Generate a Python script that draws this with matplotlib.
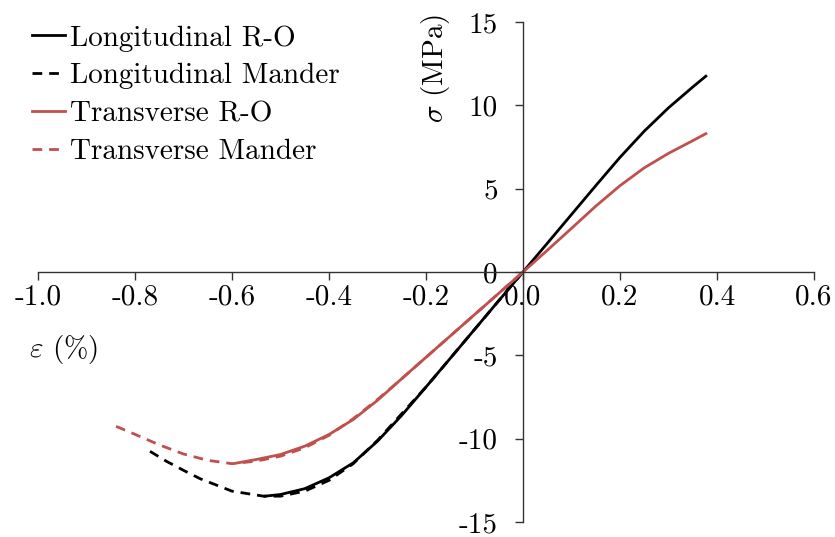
import matplotlib
matplotlib.use("Agg")
import matplotlib.pyplot as plt

plt.rcParams["font.family"] = "cmr10"
plt.rcParams["mathtext.fontset"] = "cm"
plt.rcParams["axes.unicode_minus"] = False

# strain (%) and stress (MPa)
long_ro_e = [-0.532, -0.50, -0.45, -0.40, -0.35, -0.30, -0.25, -0.20, -0.15, -0.10, -0.05,
             0.0, 0.05, 0.10, 0.15, 0.20, 0.25, 0.30, 0.35, 0.377]
long_ro_s = [-13.45, -13.35, -13.0, -12.35, -11.45, -10.15, -8.6, -6.9, -5.18, -3.45, -1.72,
             0.0, 1.72, 3.45, 5.18, 6.88, 8.45, 9.85, 11.1, 11.75]

long_mander_e = [-0.769, -0.735, -0.70, -0.666, -0.60, -0.535, -0.50, -0.45, -0.40, -0.35,
                 -0.30, -0.25, -0.20, -0.15, -0.10, 0.0]
long_mander_s = [-10.76, -11.36, -11.9, -12.4, -13.15, -13.45, -13.45, -13.15, -12.5, -11.5,
                 -10.1, -8.5, -6.9, -5.18, -3.45, 0.0]

trans_ro_e = [-0.59, -0.55, -0.50, -0.45, -0.40, -0.35, -0.30, -0.25, -0.20, -0.15, -0.10,
              -0.05, 0.0, 0.05, 0.10, 0.15, 0.20, 0.25, 0.30, 0.35, 0.377]
trans_ro_s = [-11.46, -11.25, -10.95, -10.45, -9.75, -8.85, -7.7, -6.4, -5.12, -3.84, -2.56,
              -1.28, 0.0, 1.3, 2.62, 3.95, 5.18, 6.25, 7.12, 7.88, 8.3]

trans_mander_e = [-0.839, -0.80, -0.75, -0.70, -0.65, -0.60, -0.55, -0.50, -0.45, -0.40,
                  -0.35, -0.30, -0.25, -0.20, -0.15, -0.10, 0.0]
trans_mander_s = [-9.26, -9.74, -10.37, -10.92, -11.3, -11.5, -11.35, -11.05, -10.55, -9.8,
                  -8.8, -7.65, -6.4, -5.12, -3.84, -2.56, 0.0]

xticks = [-1.0, -0.8, -0.6, -0.4, -0.2, 0.0, 0.2, 0.4, 0.6]
xtick_labels = ["-1.0", "-0.8", "-0.6", "-0.4", "-0.2", "0.0", "0.2", "0.4", "0.6"]
yticks = [-15, -10, -5, 0, 5, 10, 15]
ytick_labels = ["-15", "-10", "-5", "0", "5", "10", "15"]

red = "#C0504D"
dash = (0, (3.5, 2.5))
lw = 2.0
fs = 21

fig = plt.figure(figsize=(8.35, 5.37), dpi=100)
ax = fig.add_axes([38 / 835, 15 / 537, 776 / 835, 500 / 537])

ax.plot(long_ro_e, long_ro_s, color="black", lw=lw, label="Longitudinal R-O")
ax.plot(long_mander_e, long_mander_s, color="black", lw=lw, linestyle=dash,
        label="Longitudinal Mander")
ax.plot(trans_ro_e, trans_ro_s, color=red, lw=lw, label="Transverse R-O")
ax.plot(trans_mander_e, trans_mander_s, color=red, lw=lw, linestyle=dash,
        label="Transverse Mander")

ax.set_xlim(-1.0, 0.6)
ax.set_ylim(-15, 15)
ax.spines["left"].set_position(("data", 0))
ax.spines["bottom"].set_position(("data", 0))
ax.spines["right"].set_visible(False)
ax.spines["top"].set_visible(False)
for s in ["left", "bottom"]:
    ax.spines[s].set_color("#333333")
    ax.spines[s].set_linewidth(1.0)

ax.set_xticks(xticks, xtick_labels)
ax.set_yticks(yticks, ytick_labels)
ax.tick_params(axis="x", direction="out", length=6, width=1.0, color="#333333",
               pad=3, labelsize=fs)
ax.tick_params(axis="y", direction="out", length=6, width=1.0, color="#333333",
               pad=12, labelsize=fs)

fig.text(435 / 835, 1 - 68 / 537, r"$\sigma$ (MPa)", rotation=90,
         ha="center", va="center", fontsize=fs)
fig.text(64 / 835, 1 - 350 / 537, r"$\varepsilon$ (%)", ha="center", va="center",
         fontsize=fs)

fig.legend(loc="upper left", bbox_to_anchor=(32 / 835, 1 - 25 / 537), frameon=False,
           fontsize=fs, borderpad=0, borderaxespad=0, handlelength=1.13,
           handletextpad=0.17, labelspacing=0.39)

fig.savefig("out.png", dpi=100)
